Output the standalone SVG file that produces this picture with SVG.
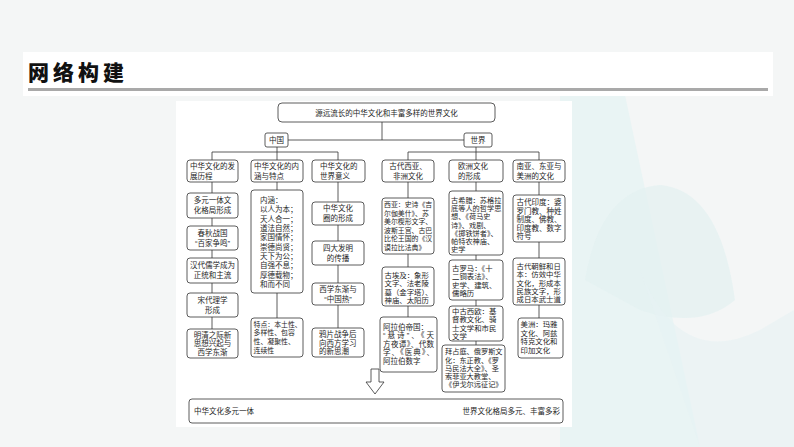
<svg xmlns="http://www.w3.org/2000/svg" width="794" height="447" viewBox="0 0 794 447">
<defs>
<style>
.bx{fill:#fff;stroke:#333;stroke-width:0.8}
.ln{fill:none;stroke:#333;stroke-width:0.8}
.t{font-family:"Liberation Sans","Noto Sans CJK SC","Noto Sans CJK TC",sans-serif;font-size:7.5px;fill:#1e1e1e}
.c{text-anchor:middle}
.e{text-anchor:end}
.s72{font-size:7.2px}
.s69{font-size:6.9px}
.s74{font-size:7.4px}
</style>
<marker id="ah" viewBox="0 0 10 10" refX="10" refY="5" markerWidth="5" markerHeight="4" markerUnits="userSpaceOnUse" orient="auto-start-reverse"><path d="M0,1 L10,5 L0,9 Z" fill="#333"/></marker>
</defs>
<!-- background -->
<rect x="0" y="0" width="794" height="447" fill="#f4f6f6"/>
<path d="M560,95 L625,95 L700,447 L560,447 Z" fill="#e9f4f4"/>
<path d="M585,280 Q600,190 660,185 Q720,190 735,300 Q700,330 640,310 Z" fill="#e2f1f1" opacity="0.7"/>
<path d="M640,270 Q680,370 760,330 L794,310 L794,447 L700,447 Z" fill="#e6f2f3" opacity="0.6"/>
<rect x="23" y="52" width="750" height="44" fill="#ffffff"/>
<rect x="28" y="88" width="740" height="3" fill="#a9a9a9"/>
<text x="28" y="80" style="font-family:'Noto Sans CJK SC',sans-serif;font-size:21px;font-weight:900;letter-spacing:4px;fill:#111">网络构建</text>
<rect x="176" y="101" width="396" height="326" fill="#ffffff"/>

<!-- connectors -->
<g id="connectors" class="ln">
<path d="M382,122 V140 M288,140 H465"/>
<path d="M277,147 V152 M212,152 H338 M212,152 V160 M277,152 V160 M338,152 V160"/>
<path d="M476,147 V160 M408,152 H539 M408,152 V160 M539,152 V160"/>
<path d="M212,182 V193 M212,218 V226 M212,250 V258 M212,283 V293 M212,317 V329"/>
<path d="M277,182 V190 M277,293 V318"/>
<path d="M338,182 V202 M338,225 V241 M338,265 V283 M338,305 V328"/>
<path d="M408,182 V198 M408,254 V267 M408,306 V317"/>
<path d="M476,182 V191 M476,255 V260 M476,300 V306 M476,341 V345"/>
<path d="M539,182 V195 M539,242 V258 M539,305 V318"/>
<path d="M257,411 H460" marker-start="url(#ah)" marker-end="url(#ah)"/>
</g>

<g id="top">
<rect class="bx" x="278" y="103" width="217" height="19" rx="4"/>
<text class="t c" x="386.5" y="115.5">源远流长的中华文化和丰富多样的世界文化</text>
</g>
<g id="china">
<rect class="bx" x="265" y="133" width="23" height="14" rx="2"/>
<text class="t c" x="276.5" y="142.9">中国</text>
</g>
<g id="world">
<rect class="bx" x="464" y="133" width="28" height="14" rx="2"/>
<text class="t c" x="478" y="142.9">世界</text>
</g>

<!-- column 1 -->
<g id="c1h">
<rect class="bx" x="187" y="160" width="51" height="22" rx="3"/>
<text class="t"><tspan x="190" y="168.8">中华文化的发</tspan><tspan x="190" y="178.8">展历程</tspan></text>
</g>
<g id="c1b1">
<rect class="bx" x="187" y="193" width="51" height="25" rx="3"/>
<text class="t c"><tspan x="212.5" y="203.3">多元一体文</tspan><tspan x="212.5" y="213.3">化格局形成</tspan></text>
</g>
<g id="c1b2">
<rect class="bx" x="187" y="226" width="51" height="24" rx="3"/>
<text class="t c"><tspan x="212.5" y="235.8">春秋战国</tspan><tspan x="212.5" y="245.8">“百家争鸣”</tspan></text>
</g>
<g id="c1b3">
<rect class="bx" x="187" y="258" width="51" height="25" rx="3"/>
<text class="t c"><tspan x="212.5" y="268.3">汉代儒学成为</tspan><tspan x="212.5" y="278.3">正统和主流</tspan></text>
</g>
<g id="c1b4">
<rect class="bx" x="187" y="293" width="51" height="24" rx="3"/>
<text class="t c"><tspan x="212.5" y="302.8">宋代理学</tspan><tspan x="212.5" y="312.8">形成</tspan></text>
</g>
<g id="c1b5">
<rect class="bx" x="187" y="329" width="51" height="29" rx="3"/>
<text class="t c"><tspan x="212.5" y="337.6">明清之际新</tspan><tspan x="212.5" y="346.2">思想兴起与</tspan><tspan x="212.5" y="354.8">西学东渐</tspan></text>
</g>

<!-- column 2 -->
<g id="c2h">
<rect class="bx" x="251" y="160" width="52" height="22" rx="3"/>
<text class="t"><tspan x="254" y="168.8">中华文化的内</tspan><tspan x="254" y="178.8">涵与特点</tspan></text>
</g>
<g id="c2b1">
<rect class="bx" x="251" y="190" width="52" height="103" rx="3"/>
<text class="t"><tspan x="260" y="202.8">内涵：</tspan><tspan x="260" y="212.2">以人为本；</tspan><tspan x="260" y="221.5">天人合一；</tspan><tspan x="260" y="230.9">道法自然；</tspan><tspan x="260" y="240.2">家国情怀；</tspan><tspan x="260" y="249.6">崇德尚贤；</tspan><tspan x="260" y="258.9">天下为公；</tspan><tspan x="260" y="268.3">自强不息；</tspan><tspan x="260" y="277.6">厚德载物；</tspan><tspan x="260" y="287">和而不同</tspan></text>
</g>
<g id="c2b2">
<rect class="bx" x="251" y="318" width="52" height="39" rx="3"/>
<text class="t s69"><tspan x="253.5" y="326.6">特点：本土性、</tspan><tspan x="253.5" y="335.3">多样性、包容</tspan><tspan x="253.5" y="344">性、凝聚性、</tspan><tspan x="253.5" y="352.7">连续性</tspan></text>
</g>

<!-- column 3 -->
<g id="c3h">
<rect class="bx" x="312" y="160" width="53" height="22" rx="3"/>
<text class="t"><tspan x="320" y="168.8">中华文化的</tspan><tspan x="320" y="178.8">世界意义</tspan></text>
</g>
<g id="c3b1">
<rect class="bx" x="312" y="202" width="52" height="23" rx="3"/>
<text class="t c"><tspan x="338" y="211.3">中华文化</tspan><tspan x="338" y="221.3">圈的形成</tspan></text>
</g>
<g id="c3b2">
<rect class="bx" x="312" y="241" width="52" height="24" rx="3"/>
<text class="t c"><tspan x="338" y="250.8">四大发明</tspan><tspan x="338" y="260.8">的传播</tspan></text>
</g>
<g id="c3b3">
<rect class="bx" x="312" y="283" width="52" height="22" rx="3"/>
<text class="t c"><tspan x="338" y="291.8">西学东渐与</tspan><tspan x="338" y="301.8">“中国热”</tspan></text>
</g>
<g id="c3b4">
<rect class="bx" x="312" y="328" width="52" height="29" rx="3"/>
<text class="t"><tspan x="319" y="336.8">鸦片战争后</tspan><tspan x="319" y="345.6">向西方学习</tspan><tspan x="319" y="354.4">的新思潮</tspan></text>
</g>

<!-- column 4 -->
<g id="c4h">
<rect class="bx" x="382" y="160" width="52" height="22" rx="3"/>
<text class="t c"><tspan x="408" y="168.8">古代西亚、</tspan><tspan x="408" y="178.8">非洲文化</tspan></text>
</g>
<g id="c4b1">
<rect class="bx" x="382" y="198" width="52" height="56" rx="3"/>
<text class="t s69"><tspan x="384" y="207.1">西亚：史诗《吉</tspan><tspan x="384" y="215.6">尔伽美什》、苏</tspan><tspan x="384" y="224.1">美尔楔形文字、</tspan><tspan x="384" y="232.6">波斯王宫、古巴</tspan><tspan x="384" y="241.1">比伦王国的《汉</tspan><tspan x="384" y="249.6">谟拉比法典》</tspan></text>
</g>
<g id="c4b2">
<rect class="bx" x="382" y="267" width="52" height="39" rx="3"/>
<text class="t s74"><tspan x="384.5" y="277.8">古埃及：象形</tspan><tspan x="384.5" y="286.3">文字、法老陵</tspan><tspan x="384.5" y="294.8" textLength="48" lengthAdjust="spacing">墓（金字塔）、</tspan><tspan x="384.5" y="303.3">神庙、太阳历</tspan></text>
</g>
<g id="c4b3">
<rect class="bx" x="380" y="317" width="57" height="55" rx="3"/>
<text class="t"><tspan x="383" y="329.8">阿拉伯帝国：</tspan><tspan x="383" y="338.3" textLength="51" lengthAdjust="spacing">“悬诗”、《天</tspan><tspan x="383" y="346.8" textLength="51" lengthAdjust="spacing">方夜谭》、代数</tspan><tspan x="383" y="355.3" textLength="51" lengthAdjust="spacing">学、《医典》、</tspan><tspan x="383" y="363.8">阿拉伯数字</tspan></text>
</g>

<!-- column 5 -->
<g id="c5h">
<rect class="bx" x="449" y="160" width="54" height="22" rx="3"/>
<text class="t"><tspan x="458" y="168.8">欧洲文化</tspan><tspan x="458" y="178.8">的形成</tspan></text>
</g>
<g id="c5b1">
<rect class="bx" x="449" y="191" width="54" height="64" rx="3"/>
<text class="t s72"><tspan x="451" y="203.2">古希腊：苏格拉</tspan><tspan x="451" y="211.3">底等人的哲学思</tspan><tspan x="451" y="219.4">想、《荷马史</tspan><tspan x="451" y="227.5">诗》、戏剧、</tspan><tspan x="451" y="235.6">《掷铁饼者》、</tspan><tspan x="451" y="243.7">帕特农神庙、</tspan><tspan x="451" y="251.8">史学</tspan></text>
</g>
<g id="c5b2">
<rect class="bx" x="449" y="260" width="54" height="40" rx="3"/>
<text class="t s74"><tspan x="452" y="270.8">古罗马：《十</tspan><tspan x="452" y="279.3">二铜表法》、</tspan><tspan x="452" y="287.8">史学、建筑、</tspan><tspan x="452" y="296.3">儒略历</tspan></text>
</g>
<g id="c5b3">
<rect class="bx" x="449" y="306" width="54" height="35" rx="3"/>
<text class="t s74"><tspan x="452" y="314">中古西欧：基</tspan><tspan x="452" y="322.3">督教文化、骑</tspan><tspan x="452" y="330.6">士文学和市民</tspan><tspan x="452" y="338.9">文学</tspan></text>
</g>
<g id="c5b4">
<rect class="bx" x="442" y="345" width="63" height="47" rx="3"/>
<text class="t s72"><tspan x="445" y="354.2">拜占庭、俄罗斯文</tspan><tspan x="445" y="362.5">化：东正教、《罗</tspan><tspan x="445" y="370.8">马民法大全》、圣</tspan><tspan x="445" y="379.1">索菲亚大教堂、</tspan><tspan x="445" y="387.4">《伊戈尔远征记》</tspan></text>
</g>

<!-- column 6 -->
<g id="c6h">
<rect class="bx" x="513" y="160" width="52" height="22" rx="3"/>
<text class="t"><tspan x="516.5" y="168.8">南亚、东亚与</tspan><tspan x="516.5" y="178.8">美洲的文化</tspan></text>
</g>
<g id="c6b1">
<rect class="bx" x="513" y="195" width="52" height="47" rx="3"/>
<text class="t"><tspan x="516.5" y="205.3">古代印度：婆</tspan><tspan x="516.5" y="213.8">罗门教、种姓</tspan><tspan x="516.5" y="222.3">制度、佛教、</tspan><tspan x="516.5" y="230.8">印度教、数字</tspan><tspan x="516.5" y="239.3">符号</tspan></text>
</g>
<g id="c6b2">
<rect class="bx" x="513" y="258" width="52" height="47" rx="3"/>
<text class="t s74"><tspan x="516.5" y="268.8">古代朝鲜和日</tspan><tspan x="516.5" y="277.2">本：仿效中华</tspan><tspan x="516.5" y="285.6">文化，形成本</tspan><tspan x="516.5" y="294">民族文字，形</tspan><tspan x="516.5" y="302.4">成日本武士道</tspan></text>
</g>
<g id="c6b3">
<rect class="bx" x="518" y="318" width="45" height="40" rx="3"/>
<text class="t s74"><tspan x="520.5" y="327.3">美洲：玛雅</tspan><tspan x="520.5" y="335.8">文化、阿兹</tspan><tspan x="520.5" y="344.3">特克文化和</tspan><tspan x="520.5" y="352.8">印加文化</tspan></text>
</g>

<!-- hollow arrow -->
<g id="down-arrow">
<path d="M371,369 H379 V382 H384 L375,394 L366,382 H371 Z" fill="#fff" stroke="#333" stroke-width="0.8"/>
</g>

<!-- bottom bar -->
<g id="bottom">
<rect class="bx" x="189" y="399" width="374" height="24" rx="3"/>
<text class="t" x="194" y="413.8">中华文化多元一体</text>
<text class="t e" x="560" y="413.8">世界文化格局多元、丰富多彩</text>
</g>
</svg>
